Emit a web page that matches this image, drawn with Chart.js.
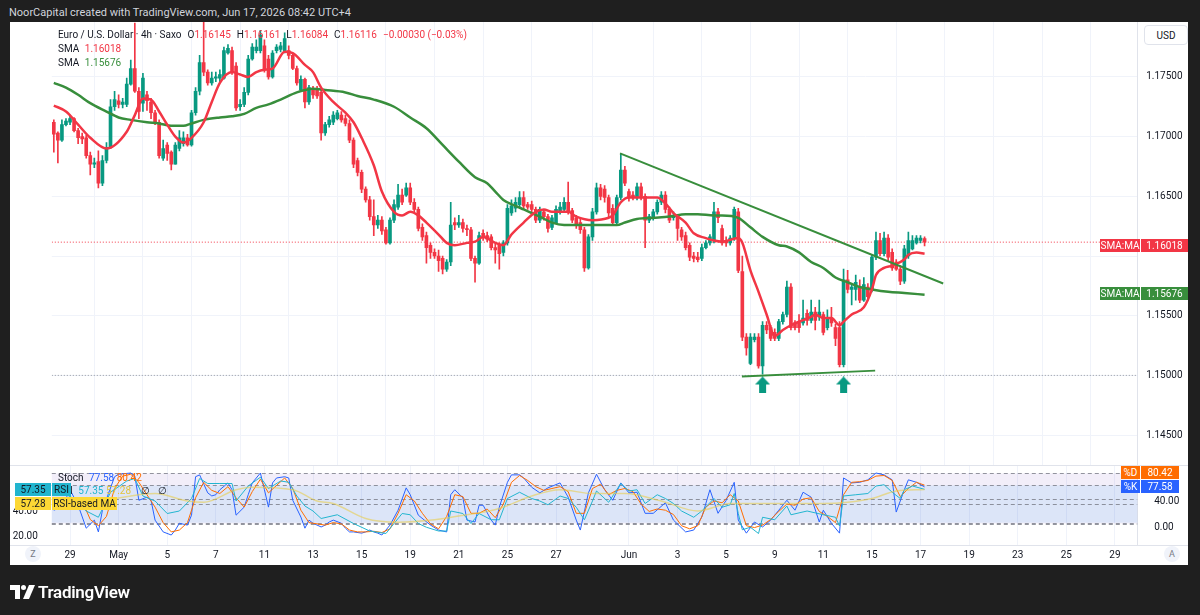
<!DOCTYPE html>
<html>
<head>
<meta charset="utf-8">
<title>EUR/USD 4h</title>
<script src="https://cdn.jsdelivr.net/npm/chart.js@4.4.1/dist/chart.umd.min.js"></script>
<style>
  html, body { margin: 0; padding: 0; }
  body { width: 1200px; height: 615px; background: #1f1f1f; position: relative; overflow: hidden;
         font-family: Roboto, "Noto Sans", sans-serif; font-size: 10px; color: #131722; }
  .abs { position: absolute; white-space: nowrap; }
  #panel { left: 10px; top: 22px; width: 1178px; height: 543px; background: #fff; }
  canvas { position: absolute; left: 10px; }
  #price { top: 22px; }
  #osc { top: 466px; }
  .sep { position: absolute; left: 10px; width: 1178px; height: 1px; background: #e0e3eb; }
  .red { color: #f23645; }
  .grn { color: #388e3c; }
  .gap { margin-left: 6px; }
  .badge { position: absolute; height: 13px; line-height: 13px; text-align: center; font-size: 10px; }
  .circ { position: absolute; width: 16px; height: 16px; border-radius: 8px; background: #f0f3fa;
          color: #787b86; font-size: 9px; line-height: 16px; text-align: center; }
</style>
</head>
<body>
<div class="abs" style="left:9px;top:6px;color:#d1d4dc;font-size:11px;">NoorCapital created with TradingView.com, Jun 17, 2026 08:42 UTC+4</div>
<div id="panel" class="abs"></div>
<canvas id="price" width="1178" height="443"></canvas>
<canvas id="osc" width="1178" height="99"></canvas>
<div class="sep" style="top:465px"></div>
<div class="sep" style="top:545px"></div>

<!-- price pane legend -->
<div class="abs" style="left:58px;top:29px;">Euro / U.S. Dollar · 4h · Saxo<span class="gap">O</span><span class="red">1.16145</span><span class="gap">H</span><span class="red">1.16161</span><span class="gap">L</span><span class="red">1.16084</span><span class="gap">C</span><span class="red">1.16116</span><span class="red gap">−0.00030 (−0.03%)</span></div>
<div class="abs" style="left:58px;top:43px;">SMA <span class="red" style="margin-left:3px">1.16018</span></div>
<div class="abs" style="left:58px;top:57px;">SMA <span class="grn" style="margin-left:3px">1.15676</span></div>
<div class="abs" style="left:1144px;top:25px;width:44px;height:20px;line-height:20px;text-align:center;border:1px solid #e0e3eb;border-radius:4px;background:#fff;box-sizing:border-box;">USD</div>

<!-- price scale badges -->
<div class="badge" style="left:1100px;top:239px;width:40px;background:#f23645;color:#fff;">SMA:MA</div>
<div class="badge" style="left:1141px;top:239px;width:47px;background:#f23645;color:#fff;">1.16018</div>
<div class="badge" style="left:1100px;top:287px;width:40px;background:#388e3c;color:#fff;">SMA:MA</div>
<div class="badge" style="left:1141px;top:287px;width:47px;background:#388e3c;color:#fff;">1.15676</div>

<!-- oscillator legend -->
<div class="abs" style="left:58px;top:472px;">Stoch <span style="color:#2962ff;margin-left:3px">77.58</span> <span style="color:#ff6d00">80.42</span></div>
<div class="abs" style="left:58px;top:485px;">RSI <span style="color:#22b5cf;margin-left:3px">57.35</span> <span style="color:#e3c43c">57.28</span><span style="margin-left:10px">∅</span><span style="margin-left:8px">∅</span></div>
<div class="badge" style="left:15px;top:483px;width:36px;background:#22b5cf;">57.35</div>
<div class="badge" style="left:52px;top:483px;width:19px;background:#22b5cf;">RSI</div>
<div class="badge" style="left:15px;top:497px;width:36px;background:#fdd835;">57.28</div>
<div class="badge" style="left:52px;top:497px;width:65px;background:#fdd835;">RSI-based MA</div>
<div class="badge" style="left:1121px;top:466px;width:19px;background:#ff6d00;color:#fff;">%D</div>
<div class="badge" style="left:1141px;top:466px;width:38px;background:#ff6d00;color:#fff;">80.42</div>
<div class="badge" style="left:1121px;top:480px;width:19px;background:#2962ff;color:#fff;">%K</div>
<div class="badge" style="left:1141px;top:480px;width:38px;background:#2962ff;color:#fff;">77.58</div>

<div class="circ" style="left:25px;top:546px;">Z</div>
<div class="circ" style="left:1164px;top:546px;">A</div>

<div class="abs" style="left:10px;top:582px;color:#fff;font-size:17px;font-weight:600;letter-spacing:-0.3px;">
  <svg width="26" height="14" viewBox="0 0 26 14" style="vertical-align:-1px;margin-right:2px"><path d="M0 0h10v14h-5v-9h-5z" fill="#fff"/><circle cx="13.5" cy="2.5" r="2.5" fill="#fff"/><path d="M19 0h6l-6 14h-6z" fill="#fff"/></svg>TradingView</div>

<script>
// ---------- time axis ----------
const tickBars = [6, 18, 30, 42, 54, 66, 78, 90, 102, 114, 126, 144, 156, 168, 180, 192, 204, 216, 228, 240, 252, 264];
const tickText = ['29', 'May', '5', '7', '11', '13', '15', '19', '21', '25', '27', 'Jun', '3', '5', '9', '11', '15', '17', '19', '23', '25', '29'];
const xMin = 1.5, xMax = 269.5;

// ---------- EUR/USD 4h candles, bar 2 .. 217 ----------
const firstBar = 2;
const opens = [
  1.1712,1.1703,1.1697,1.1710,1.1712,1.1715,1.1705,1.1700,1.1699,1.1684,
  1.1677,1.1679,1.1661,1.1680,1.1691,1.1725,1.1730,1.1727,1.1727,1.1744,
  1.1757,1.1738,1.1728,1.1735,1.1729,1.1720,1.1712,1.1682,1.1693,1.1687,
  1.1677,1.1690,1.1694,1.1699,1.1693,1.1720,1.1738,1.1762,1.1754,1.1745,
  1.1749,1.1749,1.1749,1.1770,1.1772,1.1759,1.1725,1.1727,1.1737,1.1765,
  1.1772,1.1772,1.1776,1.1765,1.1750,1.1772,1.1773,1.1772,1.1772,1.1768,
  1.1757,1.1739,1.1748,1.1729,1.1739,1.1739,1.1737,1.1703,1.1710,1.1712,
  1.1715,1.1718,1.1715,1.1711,1.1697,1.1680,1.1670,1.1656,1.1647,1.1633,
  1.1626,1.1630,1.1622,1.1611,1.1630,1.1641,1.1651,1.1651,1.1657,1.1645,
  1.1639,1.1624,1.1617,1.1609,1.1603,1.1600,1.1598,1.1589,1.1595,1.1628,
  1.1626,1.1628,1.1623,1.1622,1.1598,1.1594,1.1619,1.1617,1.1616,1.1607,
  1.1609,1.1603,1.1611,1.1636,1.1640,1.1643,1.1649,1.1643,1.1643,1.1639,
  1.1630,1.1637,1.1633,1.1624,1.1628,1.1637,1.1639,1.1645,1.1638,1.1632,
  1.1628,1.1622,1.1590,1.1616,1.1637,1.1657,1.1656,1.1649,1.1640,1.1628,
  1.1649,1.1672,1.1654,1.1651,1.1649,1.1658,1.1650,1.1630,1.1632,1.1637,
  1.1645,1.1651,1.1639,1.1632,1.1633,1.1622,1.1617,1.1609,1.1600,1.1599,
  1.1598,1.1607,1.1611,1.1613,1.1637,1.1623,1.1613,1.1611,1.1615,1.1637,
  1.1587,1.1532,1.1510,1.1530,1.1532,1.1508,1.1542,1.1540,1.1536,1.1531,
  1.1545,1.1551,1.1574,1.1544,1.1545,1.1544,1.1552,1.1546,1.1553,1.1549,
  1.1551,1.1540,1.1548,1.1540,1.1540,1.1509,1.1580,1.1572,1.1572,1.1574,
  1.1563,1.1574,1.1572,1.1599,1.1613,1.1602,1.1615,1.1603,1.1595,1.1589,
  1.1579,1.1600,1.1606,1.1611,1.1613,1.16145
];
const highs = [
  1.1714,1.1704,1.1714,1.1715,1.1718,1.1716,1.1707,1.1703,1.1701,1.1687,
  1.1682,1.1688,1.1684,1.1695,1.1731,1.1738,1.1735,1.1732,1.1749,1.1764,
  1.1795,1.1741,1.1753,1.1738,1.1732,1.1722,1.1714,1.1697,1.1695,1.1688,
  1.1695,1.1705,1.1704,1.1702,1.1722,1.1741,1.1768,1.1796,1.1756,1.1754,
  1.1754,1.1756,1.1775,1.1777,1.1775,1.1762,1.1731,1.1741,1.1768,1.1778,
  1.1781,1.1789,1.1781,1.1768,1.1772,1.1777,1.1779,1.1787,1.1776,1.1770,
  1.1759,1.1751,1.1749,1.1743,1.1742,1.1742,1.1739,1.1712,1.1717,1.1721,
  1.1722,1.1721,1.1718,1.1714,1.1699,1.1682,1.1672,1.1658,1.1650,1.1647,
  1.1634,1.1633,1.1624,1.1632,1.1647,1.1660,1.1656,1.1661,1.1661,1.1648,
  1.1641,1.1627,1.1620,1.1611,1.1606,1.1605,1.1600,1.1597,1.1645,1.1632,
  1.1634,1.1631,1.1626,1.1624,1.1600,1.1620,1.1622,1.1620,1.1618,1.1610,
  1.1611,1.1613,1.1643,1.1647,1.1649,1.1654,1.1654,1.1645,1.1646,1.1641,
  1.1641,1.1639,1.1635,1.1634,1.1642,1.1645,1.1649,1.1662,1.1640,1.1634,
  1.1631,1.1624,1.1618,1.1640,1.1661,1.1660,1.1659,1.1651,1.1643,1.1651,
  1.1686,1.1675,1.1656,1.1654,1.1661,1.1661,1.1652,1.1635,1.1639,1.1647,
  1.1654,1.1654,1.1641,1.1637,1.1635,1.1624,1.1620,1.1611,1.1603,1.1603,
  1.1610,1.1613,1.1618,1.1645,1.1640,1.1626,1.1616,1.1617,1.1641,1.1640,
  1.1600,1.1535,1.1535,1.1535,1.1535,1.1545,1.1545,1.1542,1.1539,1.1547,
  1.1553,1.1579,1.1577,1.1546,1.1551,1.1563,1.1555,1.1563,1.1557,1.1563,
  1.1553,1.1555,1.1557,1.1543,1.1545,1.1589,1.1588,1.1577,1.1584,1.1580,
  1.1582,1.1577,1.1601,1.1620,1.1619,1.1620,1.1618,1.1606,1.1597,1.1592,
  1.1609,1.1620,1.1617,1.1617,1.1617,1.16161
];
const lows = [
  1.1687,1.1678,1.1696,1.1709,1.1710,1.1704,1.1694,1.1694,1.1682,1.1668,
  1.1674,1.1657,1.1659,1.1678,1.1690,1.1722,1.1724,1.1724,1.1725,1.1743,
  1.1737,1.1715,1.1721,1.1722,1.1715,1.1710,1.1682,1.1680,1.1680,1.1672,
  1.1677,1.1688,1.1692,1.1692,1.1692,1.1718,1.1735,1.1751,1.1743,1.1743,
  1.1746,1.1746,1.1748,1.1769,1.1752,1.1722,1.1722,1.1725,1.1735,1.1764,
  1.1770,1.1770,1.1754,1.1748,1.1749,1.1770,1.1771,1.1770,1.1765,1.1756,
  1.1743,1.1738,1.1724,1.1727,1.1732,1.1732,1.1697,1.1701,1.1708,1.1710,
  1.1714,1.1712,1.1709,1.1695,1.1674,1.1667,1.1653,1.1645,1.1630,1.1617,
  1.1623,1.1618,1.1610,1.1610,1.1628,1.1639,1.1643,1.1650,1.1643,1.1636,
  1.1621,1.1613,1.1594,1.1598,1.1598,1.1587,1.1585,1.1587,1.1592,1.1622,
  1.1624,1.1620,1.1617,1.1596,1.1578,1.1593,1.1613,1.1612,1.1605,1.1594,
  1.1589,1.1600,1.1609,1.1634,1.1637,1.1641,1.1639,1.1639,1.1635,1.1628,
  1.1628,1.1630,1.1620,1.1622,1.1627,1.1635,1.1637,1.1635,1.1628,1.1623,
  1.1619,1.1587,1.1589,1.1613,1.1635,1.1647,1.1645,1.1633,1.1626,1.1627,
  1.1647,1.1659,1.1646,1.1647,1.1647,1.1647,1.1607,1.1628,1.1630,1.1635,
  1.1643,1.1636,1.1628,1.1630,1.1613,1.1613,1.1605,1.1596,1.1595,1.1595,
  1.1596,1.1606,1.1609,1.1611,1.1628,1.1609,1.1608,1.1609,1.1613,1.1586,
  1.1529,1.1517,1.1509,1.1528,1.1506,1.1501,1.1535,1.1529,1.1529,1.1529,
  1.1543,1.1549,1.1538,1.1538,1.1536,1.1542,1.1542,1.1544,1.1538,1.1546,
  1.1534,1.1538,1.1541,1.1525,1.1507,1.1507,1.1569,1.1559,1.1563,1.1561,
  1.1562,1.1563,1.1570,1.1597,1.1600,1.1600,1.1596,1.1588,1.1588,1.1576,
  1.1577,1.1598,1.1605,1.1610,1.1611,1.16084
];
const closes = [
  1.1702,1.1697,1.1710,1.1713,1.1715,1.1705,1.1699,1.1698,1.1684,1.1677,
  1.1678,1.1661,1.1680,1.1691,1.1725,1.1731,1.1727,1.1729,1.1744,1.1757,
  1.1738,1.1721,1.1749,1.1730,1.1720,1.1712,1.1684,1.1690,1.1686,1.1677,
  1.1693,1.1699,1.1699,1.1693,1.1720,1.1738,1.1762,1.1754,1.1745,1.1749,
  1.1750,1.1752,1.1772,1.1774,1.1754,1.1724,1.1727,1.1737,1.1765,1.1775,
  1.1775,1.1785,1.1756,1.1750,1.1770,1.1775,1.1776,1.1782,1.1768,1.1757,
  1.1745,1.1748,1.1729,1.1741,1.1735,1.1734,1.1703,1.1710,1.1714,1.1718,
  1.1720,1.1714,1.1711,1.1697,1.1677,1.1670,1.1656,1.1647,1.1633,1.1626,
  1.1630,1.1621,1.1611,1.1630,1.1643,1.1651,1.1645,1.1657,1.1645,1.1639,
  1.1623,1.1616,1.1607,1.1603,1.1600,1.1596,1.1589,1.1595,1.1626,1.1626,
  1.1628,1.1623,1.1622,1.1598,1.1594,1.1617,1.1616,1.1614,1.1607,1.1605,
  1.1602,1.1611,1.1640,1.1642,1.1645,1.1649,1.1642,1.1641,1.1639,1.1630,
  1.1639,1.1633,1.1623,1.1632,1.1639,1.1641,1.1645,1.1638,1.1630,1.1626,
  1.1622,1.1590,1.1616,1.1637,1.1657,1.1650,1.1649,1.1636,1.1628,1.1649,
  1.1672,1.1661,1.1649,1.1649,1.1658,1.1650,1.1630,1.1633,1.1637,1.1645,
  1.1651,1.1639,1.1630,1.1634,1.1623,1.1616,1.1607,1.1599,1.1598,1.1597,
  1.1607,1.1611,1.1616,1.1637,1.1632,1.1611,1.1611,1.1615,1.1639,1.1588,
  1.1532,1.1523,1.1532,1.1532,1.1508,1.1542,1.1538,1.1531,1.1531,1.1545,
  1.1551,1.1574,1.1540,1.1540,1.1540,1.1548,1.1546,1.1553,1.1546,1.1553,
  1.1536,1.1548,1.1544,1.1531,1.1509,1.1580,1.1572,1.1574,1.1578,1.1563,
  1.1576,1.1566,1.1599,1.1613,1.1602,1.1615,1.1599,1.1590,1.1589,1.1579,
  1.1606,1.1613,1.1613,1.1615,1.1615,1.16116
];

// SMA lines (bar index, value)
const smaFastBars = [2,5,8,11,15,20,22,24,26,28,30,32,34,36,39,41,43,46,48,50,52,54,56,59,61,64,66,68,71,74,
  76,78,81,83,86,88,90,92,94,97,99,101,104,106,108,111,113,115,118,121,123,125,129,131,135,139,140,142,144,149,
  151,153,155,158,160,163,165,167,171,172,174,176,178,180,182,184,186,189,190,192,194,196,197,199,202,204,205,207,209,212,
  213,215,217];
const smaFastVals = [1.1726,1.1721,1.1710,1.1699,1.1690,1.1704,1.1718,1.1732,1.1731,1.1721,
  1.1710,1.1700,1.1695,1.1699,1.1712,1.1729,1.1745,1.1754,1.1752,1.1750,
  1.1754,1.1756,1.1757,1.1771,1.1770,1.1760,1.1754,1.1741,1.1729,1.1720,
  1.1712,1.1699,1.1676,1.1654,1.1637,1.1634,1.1637,1.1634,1.1628,1.1618,
  1.1611,1.1609,1.1611,1.1612,1.1616,1.1611,1.1609,1.1618,1.1628,1.1637,
  1.1639,1.1637,1.1637,1.1633,1.1630,1.1632,1.1634,1.1645,1.1649,1.1649,
  1.1649,1.1644,1.1636,1.1628,1.1619,1.1615,1.1613,1.1612,1.1615,1.1611,
  1.1588,1.1570,1.1551,1.1533,1.1538,1.1542,1.1545,1.1549,1.1551,1.1548,
  1.1548,1.1542,1.1545,1.1551,1.1557,1.1572,1.1584,1.1590,1.1592,1.1597,
  1.1601,1.1603,1.16018];
const smaSlowBars = [2,5,8,11,15,18,21,25,28,31,34,36,39,43,46,49,52,55,58,62,66,69,74,77,81,86,90,94,98,102,
  106,109,111,113,116,118,122,125,128,136,141,143,146,150,154,158,161,165,167,171,174,177,181,183,186,189,192,195,198,201,
  204,208,212,217];
const smaSlowVals = [1.1745,1.1741,1.1735,1.1728,1.1721,1.1716,1.1714,1.1712,1.1711,1.1709,
  1.1709,1.1711,1.1714,1.1716,1.1717,1.1719,1.1724,1.1727,1.1731,1.1737,
  1.1740,1.1739,1.1737,1.1734,1.1731,1.1725,1.1716,1.1707,1.1693,1.1679,
  1.1666,1.1661,1.1654,1.1647,1.1642,1.1639,1.1633,1.1628,1.1626,1.1626,
  1.1626,1.1628,1.1631,1.1632,1.1633,1.1635,1.1635,1.1634,1.1634,1.1632,
  1.1624,1.1616,1.1609,1.1608,1.1603,1.1595,1.1590,1.1582,1.1578,1.1574,
  1.1572,1.1570,1.1569,1.15676];

// drawings
const resistBars = [141.8, 221.6], resistVals = [1.1686, 1.1577];
const supportBars = [171.9, 204.8], supportVals = [1.1499, 1.1504];
const arrowBars = [177, 197], arrowVals = [1.1492, 1.1492];
const levelLine = 1.15;
const lastClose = 1.16116;
const priceTicks = [1.145, 1.15, 1.155, 1.16, 1.165, 1.17, 1.175];

// ---------- oscillators ----------
const kBars = [2,4,6,8,10,12,13,14,17,18, 21,22,23,25,26,27,29,31,32,33, 35,36,37,38,40,41,42,43,45,46,
  47,49,50,51,53,54,55,56,57,59, 60,61,63,64,65,66,68,69,70,71, 73,74,75,76,78,79,80,81,82,83,
  85,87,89,90,92,95,97,99,100,101, 103,104,106,107,108,110,111,112,114,115, 117,118,120,122,124,127,129,131,132,134,
  136,138,140,142,144,146,148,150,153,155, 158,160,162,164,166,168,170,171,173,175, 177,179,181,183,185,187,189,191,192,194,
  196,197,199,201,203,205,207,209,210,212, 213,215,217];
const kVals = [40,45,73,48,11,24,5,40,94,98, 100,95,56,61,56,24,5,0,8,19, 16,32,94,97,68,63,65,73,84,73,
  32,45,65,84,100,73,45,84,92,94, 92,56,29,11,24,19,13,16,21,24, 19,11,5,5,3,5,8,5,3,0,
  16,40,76,65,32,16,8,5,65,73, 60,24,21,48,48,24,16,45,85,97, 97,92,77,68,76,84,61,24,8,68,
  98,73,56,84,68,69,35,35,52,24, 5,8,29,73,35,56,85,24,3,21, 13,24,40,56,40,69,61,21,40,19,
  3,92,84,85,89,100,97,89,37,73, 89,85,77.58];
const dBars = [2,5,7,9,11,13,15,17,19,21,23,25,27,29,31,33,35,37,39,41,43,45,47,49,51,53,55,57,59,61,
  63,65,67,69,71,73,75,77,79,81,83,85,87,89,91,93,95,97,99,101,103,105,107,109,111,113,115,117,119,121,
  123,125,127,129,131,133,135,137,139,141,143,145,147,149,151,153,155,157,159,161,163,165,167,169,171,173,175,177,179,181,
  183,185,187,189,191,193,195,197,199,201,203,205,207,209,211,213,215,217];
const dVals = [45,50,60,55,25,15,30,75,95,98, 85,65,45,20,5,8,20,60,85,72, 67,78,60,45,70,90,68,80,92,75,
  40,20,18,16,20,18,8,5,5,6, 4,10,35,65,55,35,18,10,30,65, 62,35,35,42,28,50,85,96,88,78,
  72,75,78,70,35,35,75,82,65,72, 75,70,50,38,42,40,33,15,10,15, 45,55,52,65,55,15,12,16,25,38,
  50,48,58,60,38,30,20,65,85,86, 88,95,96,88,62,75,85,80.42];
const rsiBars = [2,6,10,13,16,20,22,24,27,30, 33,36,38,40,43,46,47,50,53,55, 58,60,62,64,66,68,72,76,80,84,
  86,88,90,92,94,97,99,100,103,105, 107,110,112,114,117,120,122,124,127,129, 131,133,135,136,139,142,144,146,148,151,
  153,155,157,160,162,165,167,169,170,171, 172,174,176,177,180,183,184,188,192,195, 196,197,200,203,205,207,209,211,212,214, 217];
const rsiVals = [42,52,40,35,55,64,66,52,48,38, 40,50,66,62,62,62,48,60,67,58, 64,63,52,44,40,34,37,30,24,22,
  30,38,37,30,27,24,24,40,38,30, 38,33,33,50,55,50,48,45,52,50, 43,33,48,56,47,62,56,57,46,53,
  50,46,40,35,40,50,43,45,54,38, 25,27,22,35,33,44,37,40,37,35, 28,52,53,54,60,61,55,50,57,60, 57.35];
const maBars = [2,10,17,27,35,39,47,51,61,67,71,79,87,96,104,112,120,127,135,143,152,161,169,180,192,198,204,210,217];
const maVals = [45,46,50,54,48,47,57,59,57,48,46,34,31,33,37,42,52,57,54,54,48,40,46,46,46,47,50,56,57.28];
const rsiBand = [30, 70], rsiLevels = [30, 50, 70];
const stochBand = [20, 80], stochLevels = [20, 50, 80];

// ---------- helpers ----------
const pts = (bars, vals) => bars.map((b, i) => ({ x: b, y: vals[i] }));
// fixed axis sizes, and no extra label padding pushing the plot area around
const fixWidth = w => s => { s.width = w; s.paddingTop = 0; s.paddingBottom = 0; };
const fixHeight = h => s => { s.height = h; s.paddingLeft = 0; s.paddingRight = 0; };
const setTicks = list => s => { s.ticks = list.map(v => ({ value: v })); };
const tickFont = { family: 'Roboto', size: 10 };
const gridColor = '#f0f3fa';

const idx = closes.map((c, i) => firstBar + i);
const candleColor = closes.map((c, i) => c >= opens[i] ? '#089981' : '#f23645');

// little up arrow used as point style
const arrowImg = document.createElement('canvas');
arrowImg.width = 15; arrowImg.height = 17;
const ac = arrowImg.getContext('2d');
ac.fillStyle = '#089981';
ac.beginPath(); ac.moveTo(7.5, 0); ac.lineTo(15, 8); ac.lineTo(0, 8); ac.closePath(); ac.fill();
ac.fillRect(4, 8, 7, 9);

const flat = { pointRadius: 0, pointHoverRadius: 0, borderWidth: 1 };

new Chart(document.getElementById('price'), {
  type: 'bar',
  data: {
    datasets: [
      { type: 'line', data: pts([xMin, xMax], [levelLine, levelLine]), borderColor: '#9598a1', borderDash: [1, 2], ...flat, order: 9 },
      { type: 'line', data: pts([xMin, xMax], [lastClose, lastClose]), borderColor: '#f23645', borderDash: [1, 2], ...flat, order: 9 },
      { data: idx.map((k, i) => ({ x: k, y: [lows[i], highs[i]] })), backgroundColor: candleColor, barThickness: 1, grouped: false, order: 8 },
      { data: idx.map((k, i) => ({ x: k, y: [opens[i], closes[i]] })), backgroundColor: candleColor, barThickness: 3, minBarLength: 1, grouped: false, order: 7 },
      { type: 'line', data: pts(smaSlowBars, smaSlowVals), borderColor: '#388e3c', borderWidth: 2.5, pointRadius: 0, pointHoverRadius: 0, cubicInterpolationMode: 'monotone', order: 2 },
      { type: 'line', data: pts(smaFastBars, smaFastVals), borderColor: '#f23645', borderWidth: 2.5, pointRadius: 0, pointHoverRadius: 0, cubicInterpolationMode: 'monotone', order: 1 },
      { type: 'line', data: pts(resistBars, resistVals), borderColor: '#388e3c', borderWidth: 2, pointRadius: 0, pointHoverRadius: 0, order: 0 },
      { type: 'line', data: pts(supportBars, supportVals), borderColor: '#388e3c', borderWidth: 2, pointRadius: 0, pointHoverRadius: 0, order: 0 },
      { type: 'scatter', data: pts(arrowBars, arrowVals), pointStyle: arrowImg, pointRadius: 8, pointHoverRadius: 8, order: 0 }
    ]
  },
  options: {
    responsive: false, animation: false, events: [],
    layout: { autoPadding: false, padding: { left: 41.8, right: 0, top: 0, bottom: 0 } },
    plugins: { legend: { display: false }, tooltip: { enabled: false } },
    scales: {
      x: { type: 'linear', min: xMin, max: xMax, offset: false, afterBuildTicks: setTicks(tickBars),
           afterFit: fixHeight(0), ticks: { display: false },
           grid: { color: gridColor, drawTicks: false }, border: { display: false } },
      y: { position: 'right', min: 1.142496, max: 1.179598, afterFit: fixWidth(50.8), afterBuildTicks: setTicks(priceTicks),
           ticks: { callback: v => v === 1.16 ? '' : v.toFixed(5), color: '#131722', font: tickFont, padding: 9 },
           grid: { color: gridColor, drawTicks: false }, border: { color: '#e0e3eb' } }
    }
  }
});

const bandPlugin = {
  id: 'bands',
  beforeDatasetsDraw(chart) {
    const { ctx, chartArea: a, scales } = chart;
    const band = (sc, lo, hi, color) => {
      const t = sc.getPixelForValue(hi), b = sc.getPixelForValue(lo);
      ctx.fillStyle = color;
      ctx.fillRect(a.left, t, a.right - a.left, b - t);
    };
    const dash = (sc, v) => {
      const y = Math.round(sc.getPixelForValue(v)) + 0.5;
      ctx.beginPath(); ctx.moveTo(a.left, y); ctx.lineTo(a.right, y); ctx.stroke();
    };
    ctx.save();
    band(scales.yr, rsiBand[0], rsiBand[1], 'rgba(126,87,194,0.10)');
    band(scales.ys, stochBand[0], stochBand[1], 'rgba(33,150,243,0.10)');
    ctx.strokeStyle = 'rgba(120,123,134,0.8)';
    ctx.lineWidth = 1;
    ctx.setLineDash([4, 3]);
    rsiLevels.forEach(v => dash(scales.yr, v));
    stochLevels.forEach(v => dash(scales.ys, v));
    ctx.restore();
  }
};

new Chart(document.getElementById('osc'), {
  type: 'line',
  data: {
    datasets: [
      { data: pts(maBars, maVals), yAxisID: 'yr', borderColor: 'rgba(232,205,80,0.6)', borderWidth: 1.5, pointRadius: 0, pointHoverRadius: 0, cubicInterpolationMode: 'monotone' },
      { data: pts(rsiBars, rsiVals), yAxisID: 'yr', borderColor: '#22b5cf', ...flat },
      { data: pts(dBars, dVals), yAxisID: 'ys', borderColor: '#ff6d00', ...flat },
      { data: pts(kBars, kVals), yAxisID: 'ys', borderColor: '#2962ff', ...flat }
    ]
  },
  options: {
    responsive: false, animation: false, events: [],
    layout: { autoPadding: false, padding: 0 },
    plugins: { legend: { display: false }, tooltip: { enabled: false } },
    scales: {
      x: { type: 'linear', min: xMin, max: xMax, afterBuildTicks: setTicks(tickBars), afterFit: fixHeight(20),
           ticks: { callback: v => tickText[tickBars.indexOf(v)], color: '#131722', font: tickFont, maxRotation: 0, autoSkip: false, padding: 4 },
           grid: { color: gridColor, drawTicks: false }, border: { display: false } },
      yr: { position: 'left', min: 12.8, max: 76, afterFit: fixWidth(41.8), afterBuildTicks: setTicks([20, 40]),
            ticks: { callback: v => v.toFixed(2), color: '#131722', font: tickFont, padding: 6 },
            grid: { display: false }, border: { display: false } },
      ys: { display: false, min: -16.1, max: 111.3 },
      yl: { position: 'right', min: -26.2, max: 95.4, afterFit: fixWidth(50.8), afterBuildTicks: setTicks([0, 40]),
            ticks: { callback: v => v.toFixed(2), color: '#131722', font: tickFont, padding: 9 },
            grid: { display: false }, border: { color: '#e0e3eb' } }
    }
  },
  plugins: [bandPlugin]
});
</script>
</body>
</html>
